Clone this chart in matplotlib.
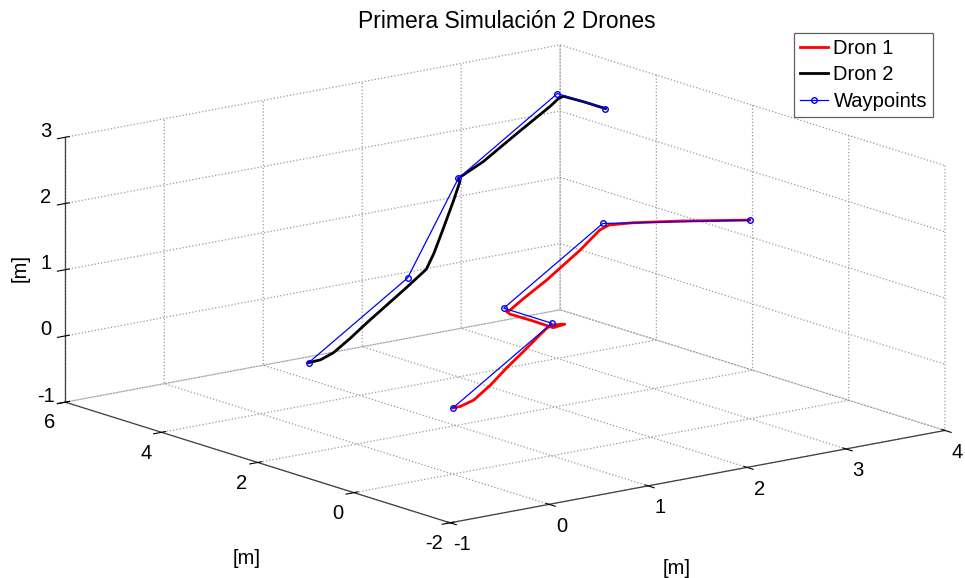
import matplotlib
matplotlib.use("Agg")
import matplotlib.pyplot as plt

plt.rcParams['font.family'] = ['Liberation Sans', 'DejaVu Sans']
plt.rcParams['axes.unicode_minus'] = False
plt.rcParams['grid.linestyle'] = ':'
plt.rcParams['grid.color'] = '#9a9a9a'
plt.rcParams['grid.linewidth'] = 0.9

# Waypoints for each drone (x, y, z in metres)
wp1_x = [0, 1, 1, 2, 3]
wp1_y = [0, 0, 1, 1, 0]
wp1_z = [0, 1, 1, 2, 2]

wp2_x = [0, 1, 2, 3, 3]
wp2_y = [3, 3, 4, 4, 3]
wp2_z = [0, 1, 2, 3, 3]

# Simulated flight path, drone 1
d1_x = [0.00, 0.07, 0.21, 0.38, 0.54, 0.71, 0.88, 0.95, 1.00, 1.13, 1.00,
        1.00, 1.00, 1.00, 1.06, 1.20, 1.43, 1.77, 1.97, 2.05, 2.20, 2.54, 3.00]
d1_y = [0.00, 0.00, 0.00, 0.00, 0.00, 0.00, 0.00, 0.00, 0.00, 0.00, -0.03,
        0.45, 0.87, 0.94, 1.00, 1.00, 1.00, 1.00, 1.00, 0.97, 0.80, 0.50, 0.00]
d1_z = [0.00, 0.00, 0.06, 0.24, 0.45, 0.65, 0.86, 0.94, 0.975, 0.95, 0.94,
        0.945, 0.94, 0.96, 0.95, 1.09, 1.30, 1.66, 1.91, 1.97, 2.00, 2.00, 2.00]

# Simulated flight path, drone 2
d2_x = [0.00, 0.12, 0.25, 0.42, 0.59, 0.79, 0.99, 1.09, 1.19, 1.35, 1.59,
        1.83, 1.99, 2.00, 2.25, 2.59, 2.93, 3.01, 3.05, 3.00, 3.00]
d2_y = [3.00, 3.00, 3.00, 3.00, 3.00, 3.00, 3.00, 3.00, 3.00, 3.17, 3.46,
        3.75, 3.95, 4.00, 4.00, 4.00, 4.00, 4.00, 3.98, 3.46, 3.00]
d2_z = [0.00, 0.01, 0.08, 0.25, 0.44, 0.65, 0.86, 0.97, 1.08, 1.24, 1.50,
        1.77, 1.96, 2.00, 2.18, 2.51, 2.83, 2.92, 2.95, 3.00, 3.00]

x_ticks = [-1, 0, 1, 2, 3, 4]
y_ticks = [-2, 0, 2, 4, 6]
z_ticks = [-1, 0, 1, 2, 3]

W, H = 965, 578
fig = plt.figure(figsize=(W / 100, H / 100), dpi=100)

side = 965.0
left_px, bottom_px = 9.6, -201.4
ax = fig.add_axes([left_px / W, bottom_px / H, side / W, side / H],
                  projection='3d', proj_type='ortho', computed_zorder=False)
ax.set_box_aspect((625, 630, 273), zoom=0.934)
ax.view_init(elev=14.0, azim=-127.65)

ax.set_xlim(x_ticks[0], x_ticks[-1])
ax.set_ylim(y_ticks[0], y_ticks[-1])
ax.set_zlim(z_ticks[0], z_ticks[-1])
ax.set_xticks(x_ticks)
ax.set_yticks(y_ticks)
ax.set_zticks(z_ticks)

for axis in (ax.xaxis, ax.yaxis, ax.zaxis):
    axis.set_pane_color((1, 1, 1, 0))
    axis.pane.set_edgecolor((1, 1, 1, 0))
    axis.line.set_color('#404040')
    axis.line.set_linewidth(0.9)
    axis._axinfo['tick']['color'] = '#404040'
ax.tick_params(labelsize=14.5, colors='black')
ax.zaxis.set_tick_params(pad=0)

# z tick labels sit just above their tick marks
for tick in ax.zaxis.get_major_ticks(len(z_ticks)):
    tick.label1.set_verticalalignment('baseline')

ax.plot(d1_x, d1_y, d1_z, color='red', lw=2.0, label='Dron 1')
ax.plot(d2_x, d2_y, d2_z, color='black', lw=2.0, label='Dron 2')
ax.plot(wp1_x, wp1_y, wp1_z, color='blue', lw=0.9, marker='o', ms=4,
        mfc='none', mew=1.0, label='Waypoints')
ax.plot(wp2_x, wp2_y, wp2_z, color='blue', lw=0.9, marker='o', ms=4,
        mfc='none', mew=1.0)

# axis titles
fig.text(20 / W, 1 - 268 / H, '[m]', rotation=90, ha='center', va='center',
         fontsize=14.5)
fig.text(247 / W, 1 - 558 / H, '[m]', ha='center', va='center', fontsize=14.5)
fig.text(677 / W, 1 - 568 / H, '[m]', ha='center', va='center', fontsize=14.5)

fig.text(507 / W, 1 - 22 / H, 'Primera Simulación 2 Drones', ha='center',
         va='center', fontsize=16.5)

leg = fig.legend(loc='upper right', bbox_to_anchor=(933 / W, 1 - 33 / H),
                 fontsize=14.5, frameon=True, fancybox=False, edgecolor='#606060',
                 framealpha=1, borderpad=0.3, labelspacing=0.37,
                 handlelength=1.4, handletextpad=0.25, borderaxespad=0)
leg.get_frame().set_linewidth(0.9)

fig.savefig('out.png', dpi=100)
